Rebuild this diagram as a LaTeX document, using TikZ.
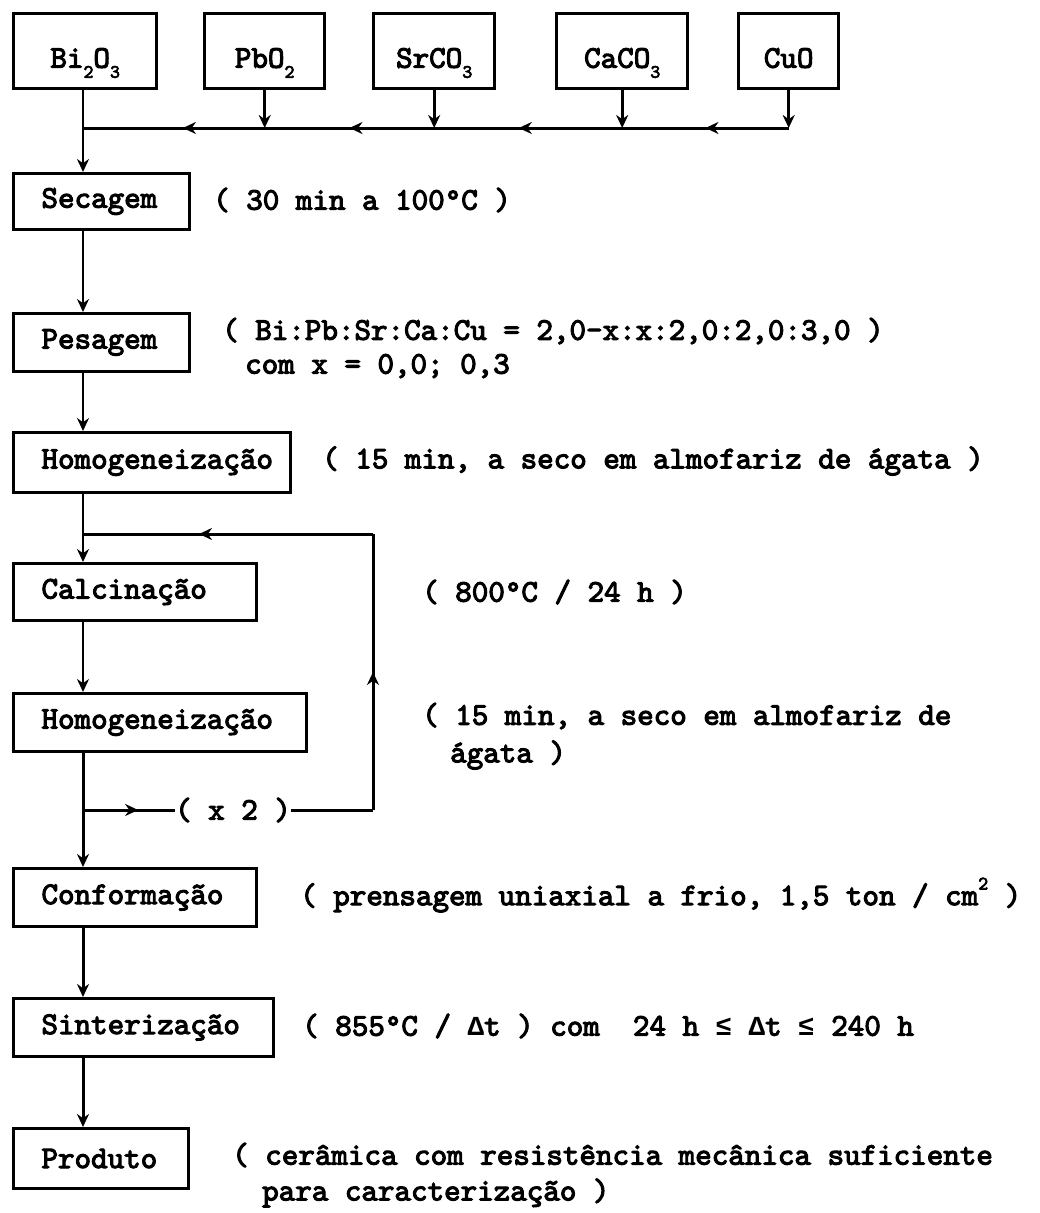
\documentclass[tikz,border=0pt]{standalone}
\usepackage{fontspec}
\newfontfamily\symf{Liberation Mono}
\newfontfamily\cour{lmmono10-regular.otf}[FakeBold=3.4]
\usetikzlibrary{arrows.meta,decorations.markings}
\newcommand{\dn}[1]{\raisebox{-0.32em}{\fontsize{19}{19}\selectfont #1}}
\newcommand{\upx}[1]{\raisebox{0.5em}{\fontsize{19}{19}\selectfont #1}}
\newcommand{\sy}[1]{{\symf\bfseries\fontsize{27.5}{33}\selectfont #1}}
\begin{document}
\begin{tikzpicture}[x=1pt,y=-1pt,
  txt/.style={font=\cour\fontsize{31.5}{36}\selectfont},
  topbox/.style={txt, draw, line width=3.4pt, anchor=north west, minimum height=75pt, inner sep=0pt},
  procbox/.style={txt, draw, line width=3pt, anchor=north west, inner xsep=28pt, inner ysep=0pt, align=left},
  lbl/.style={txt, anchor=west, inner sep=0pt},
  tip/.style={-{Stealth[length=13pt,width=12pt]}},
  thinln/.style={line width=1.4pt},
  thickln/.style={line width=3pt},
  midarrow/.style={postaction={decorate}, decoration={markings, mark=at position #1 with {\arrow{Stealth[length=13pt,width=12pt]}}}}
]
\useasboundingbox (0,0) rectangle (1039,1213);

% top boxes
\node[topbox, minimum width=143pt] (bi) at (12,12) {\raisebox{-11pt}[22pt][11pt]{Bi\dn{2}O\dn{3}}};
\node[topbox, minimum width=120pt] (pb) at (203,12) {\raisebox{-11pt}[22pt][11pt]{PbO\dn{2}}};
\node[topbox, minimum width=121pt] (sr) at (372,12) {\raisebox{-11pt}[22pt][11pt]{SrCO\dn{3}}};
\node[topbox, minimum width=131pt] (ca) at (555,12) {\raisebox{-11pt}[22pt][11pt]{CaCO\dn{3}}};
\node[topbox, minimum width=100pt] (cu) at (737,12) {\raisebox{-11pt}[22pt][11pt]{CuO}};

% process boxes
\node[procbox, text width=120pt, minimum height=56pt] (sec) at (12,172) {Secagem};
\node[procbox, text width=120pt, minimum height=58pt] (pes) at (12,312) {Pesagem};
\node[procbox, text width=221pt, minimum height=60pt] (hom1) at (12,431) {Homogeneização};
\node[procbox, text width=187pt, minimum height=57pt] (cal) at (12,562) {Calcinação};
\node[procbox, text width=237pt, minimum height=58pt] (hom2) at (12,692) {Homogeneização};
\node[procbox, text width=187pt, minimum height=58pt] (conf) at (12,867) {Conformação};
\node[procbox, text width=204pt, minimum height=58pt] (sint) at (12,997) {Sinterização};
\node[procbox, text width=119pt, minimum height=60pt] (prod) at (12,1127) {Produto};

% labels
\node[lbl] (l1) at (213,200) {( 30 min a 100°C )};
\node[lbl] (l2a) at (222,331) {( Bi:Pb:Sr:Ca:Cu = 2,0-x:x:2,0:2,0:3,0 )};
\node[lbl] (l2b) at (245,366) {com x = 0,0; 0,3};
\node[lbl] (l3) at (322,461) {( 15 min, a seco em almofariz de ágata )};
\node[lbl] (l4) at (422,592) {( 800°C / 24 h )};
\node[lbl] (l5a) at (422,716) {( 15 min, a seco em almofariz de};
\node[lbl] (l5b) at (450,755) {ágata )};
\node[lbl] (l6) at (300,895) {( prensagem uniaxial a frio, 1,5 ton / cm\upx{2} )};
\node[lbl] (l7) at (302,1026) {( 855°C / \sy{Δ}t ) com~ 24 h \sy{≤} \sy{Δ}t \sy{≤} 240 h};
\node[lbl] (l8a) at (232,1155) {( cerâmica com resistência mecânica suficiente};
\node[lbl] (l8b) at (262,1193) {para caracterização )};

% coordinates
\coordinate (spine) at (83,0);
\coordinate (j0) at (83,128);
\coordinate (br) at (83,810);
\coordinate (lr) at (373,810);
\coordinate (ur) at (373,534);
\coordinate (ul) at (83,534);
\node[txt, inner sep=0pt] (x2) at (233,810) {( x 2 )};

% feed lines
\draw[thickln, tip] (pb.south) -- (pb.south |- j0);
\draw[thickln, tip] (sr.south) -- (sr.south |- j0);
\draw[thickln, tip] (ca.south) -- (ca.south |- j0);
\draw[thickln, tip] (cu.south) -- (cu.south |- j0);
\draw[thickln, midarrow=0.5] (cu.south |- j0) -- (ca.south |- j0);
\draw[thickln, midarrow=0.55] (ca.south |- j0) -- (sr.south |- j0);
\draw[thickln, midarrow=0.5] (sr.south |- j0) -- (pb.south |- j0);
\draw[thickln, midarrow=0.45] (pb.south |- j0) -- (j0);

% main spine
\draw[thinln, tip] (bi.south -| spine) -- (sec.north -| spine);
\draw[thinln, tip] (sec.south -| spine) -- (pes.north -| spine);
\draw[thinln, tip] (pes.south -| spine) -- (hom1.north -| spine);
\draw[thinln, tip] (hom1.south -| spine) -- (cal.north -| spine);
\draw[thinln, tip] (cal.south -| spine) -- (hom2.north -| spine);
\draw[thickln, tip] (hom2.south -| spine) -- (conf.north -| spine);
\draw[thickln, tip] (conf.south -| spine) -- (sint.north -| spine);
\draw[thickln, tip] (sint.south -| spine) -- (prod.north -| spine);

% loop
\draw[thickln, midarrow=0.6] (br) -- (x2.west);
\draw[thickln] (x2.east) -- (lr);
\draw[thickln, midarrow=0.5] (lr) -- (ur);
\draw[thickln, midarrow=0.6] (ur) -- (ul);
\end{tikzpicture}
\end{document}
